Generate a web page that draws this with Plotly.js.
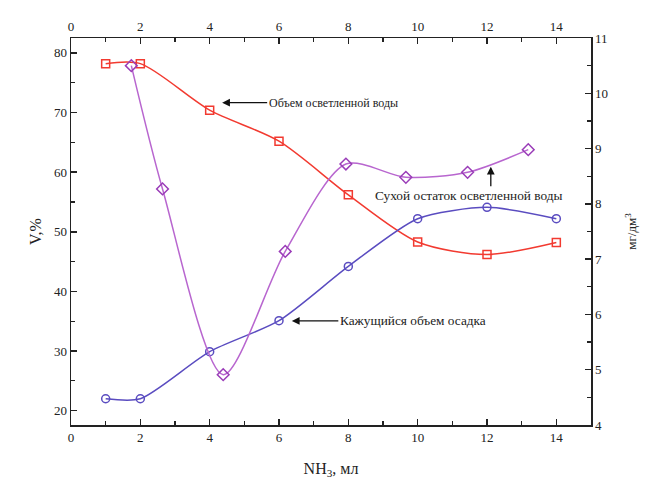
<!DOCTYPE html>
<html><head><meta charset="utf-8">
<script src="https://cdn.plot.ly/plotly-3.0.1.min.js"></script>
<style>body{margin:0;background:#fff}#c{width:648px;height:490px}</style>
</head><body><div id="c"></div>
<script>
// Data
const waterX = [1, 2, 4, 6, 8, 10, 12, 14];
const waterV = [78.2, 78.2, 70.4, 65.2, 56.2, 48.3, 46.2, 48.2];   // Объем осветленной воды, %
const sedX = [1, 2, 4, 6, 8, 10, 12, 14];
const sedV = [22.0, 22.0, 29.9, 35.1, 44.2, 52.2, 54.1, 52.2];     // Кажущийся объем осадка, %
const dryX = [1.74, 2.64, 4.39, 6.18, 7.93, 9.66, 11.44, 13.19];
const dryM = [10.5, 8.27, 4.91, 7.14, 8.72, 8.48, 8.57, 8.98];       // Сухой остаток, мг/дм3
const xTicks = [0, 2, 4, 6, 8, 10, 12, 14];
const yTicks = [20, 30, 40, 50, 60, 70, 80];
const y2Ticks = [4, 5, 6, 7, 8, 9, 10, 11];

const FONT = 'Liberation Serif, Times New Roman, serif';
const traces = [
  {x: waterX, y: waterV, type: 'scatter', mode: 'lines+markers',
   line: {color: '#f23a30', width: 1.5, shape: 'spline', smoothing: 0.8},
   marker: {symbol: 'square-open', size: 8, color: '#f23a30', line: {width: 1.5}}},
  {x: sedX, y: sedV, type: 'scatter', mode: 'lines+markers',
   line: {color: '#5a4cc0', width: 1.5, shape: 'spline', smoothing: 0.7},
   marker: {symbol: 'circle-open', size: 8, color: '#5a4cc0', line: {width: 1.5}}},
  {x: dryX, y: dryM, type: 'scatter', mode: 'lines+markers', xaxis: 'x2', yaxis: 'y2',
   line: {color: '#b866cf', width: 1.5, shape: 'spline', smoothing: 0.8},
   marker: {symbol: 'diamond-open', size: 9, color: '#9a3cb8', line: {width: 1.5}}}
];

const axBase = {showgrid: false, zeroline: false, showline: true, linecolor: '#222', linewidth: 1.5,
  ticks: 'inside', tickcolor: '#222', tickwidth: 1.5, ticklen: 6,
  tickfont: {family: FONT, size: 13, color: '#222'}};
const minorX = {ticks: 'inside', dtick: 1, ticklen: 4, tickcolor: '#222', tickwidth: 1.2};
const arrow = {arrowhead: 2, arrowsize: 1.2, arrowwidth: 1.3, arrowcolor: '#111'};

const layout = {
  width: 648, height: 490, showlegend: false,
  paper_bgcolor: '#ffffff', plot_bgcolor: '#ffffff',
  margin: {l: 71, r: 57, t: 38, b: 65},
  font: {family: FONT, color: '#222'},
  xaxis: Object.assign({}, axBase, {range: [0, 15], tickvals: xTicks, minor: minorX,
    title: {text: 'NH<sub>3</sub>, мл', font: {family: FONT, size: 16, color: '#222'}, standoff: 18}}),
  xaxis2: Object.assign({}, axBase, {range: [0, 15], tickvals: xTicks, minor: minorX,
    overlaying: 'x', side: 'top', anchor: 'y2'}),
  yaxis: Object.assign({}, axBase, {range: [17.6, 82.5], tickvals: yTicks,
    minor: {ticks: 'inside', dtick: 5, ticklen: 4, tickcolor: '#222', tickwidth: 1.2},
    title: {text: 'V,%', font: {family: FONT, size: 16, color: '#222'}, standoff: 8}}),
  yaxis2: Object.assign({}, axBase, {range: [4, 11], tickvals: y2Ticks, overlaying: 'y', side: 'right', anchor: 'x2',
    minor: {ticks: 'inside', dtick: 0.5, ticklen: 4, tickcolor: '#222', tickwidth: 1.2},
    title: {text: 'мг/дм<sup>3</sup>', font: {family: FONT, size: 13, color: '#222'}, standoff: 20}}),
  annotations: [
    Object.assign({x: 4.36, y: 71.66, xref: 'x', yref: 'y', text: 'Объем осветленной воды',
     showarrow: true, ax: 111, ay: 0, font: {family: FONT, size: 12, color: '#222'}}, arrow),
    Object.assign({x: 12.11, y: 60.9, xref: 'x', yref: 'y', text: '',
     showarrow: true, ax: 0, ay: 21}, arrow),
    {x: 11.48, y: 56.05, xref: 'x', yref: 'y', text: 'Сухой остаток осветленной воды',
     showarrow: false, font: {family: FONT, size: 13.3, color: '#222'}},
    Object.assign({x: 6.37, y: 35.06, xref: 'x', yref: 'y', text: 'Кажущийся объем осадка',
     showarrow: true, ax: 121, ay: 0, font: {family: FONT, size: 13.3, color: '#222'}}, arrow)
  ]
};
Plotly.newPlot('c', traces, layout, {displayModeBar: false, staticPlot: true});
</script></body></html>
